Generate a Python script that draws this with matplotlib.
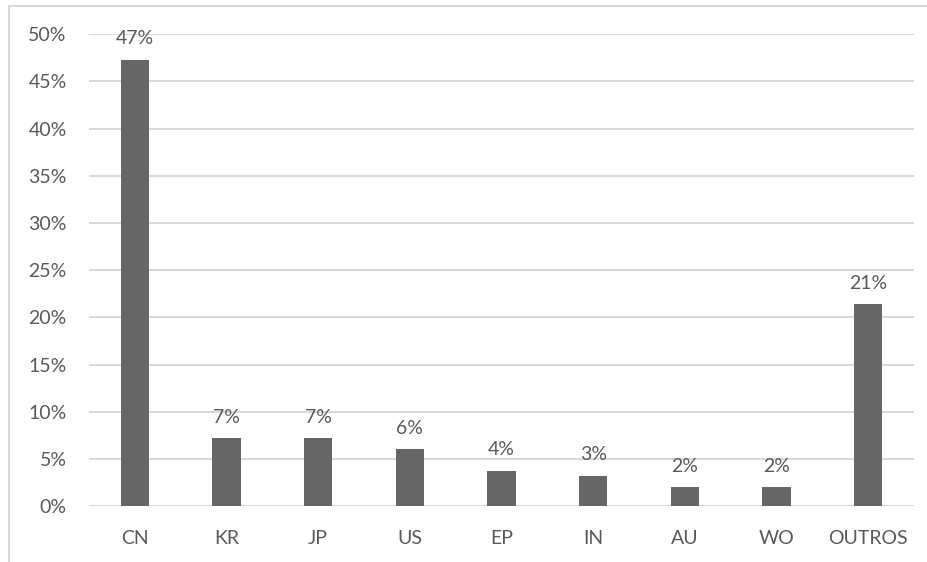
import matplotlib.pyplot as plt
from matplotlib.ticker import PercentFormatter
from matplotlib.lines import Line2D

# Share by office
offices = ['CN', 'KR', 'JP', 'US', 'EP', 'IN', 'AU', 'WO', 'OUTROS']
shares = [47.3, 7.2, 7.2, 6.0, 3.75, 3.2, 2.0, 2.0, 21.4]

text_color = '#595959'
plt.rcParams['font.family'] = ['Lato', 'DejaVu Sans']

fig = plt.figure(figsize=(9.28, 5.62), dpi=100)
ax = fig.add_axes([0.0959, 0.0996, 0.889, 0.8394])

# light frame on the top and left edges
frame = dict(transform=fig.transFigure, color='#d9d9d9', linewidth=1.5)
fig.lines.append(Line2D([0.0095, 1.0], [0.9895, 0.9895], **frame))
fig.lines.append(Line2D([0.0095, 0.0095], [0.0, 0.9895], **frame))

bars = ax.bar(offices, shares, width=0.31, color='#666666', zorder=3)
for b, v in zip(bars, shares):
    ax.annotate(f'{v:.0f}%', (b.get_x() + b.get_width() / 2, v),
                xytext=(0, 9), textcoords='offset points',
                ha='center', va='bottom', fontsize=14, color=text_color)

ax.set_ylim(0, 50)
ax.set_xlim(-0.5, len(offices) - 0.5)
ax.set_yticks(range(0, 51, 5))
ax.yaxis.set_major_formatter(PercentFormatter(decimals=0))
ax.grid(axis='y', color='#d9d9d9', linewidth=1.5, zorder=0)
ax.tick_params(length=0, labelsize=14, labelcolor=text_color)
ax.tick_params(axis='y', pad=16)
ax.tick_params(axis='x', pad=17)
for s in ax.spines.values():
    s.set_visible(False)

fig.savefig('out.png', dpi=100)
